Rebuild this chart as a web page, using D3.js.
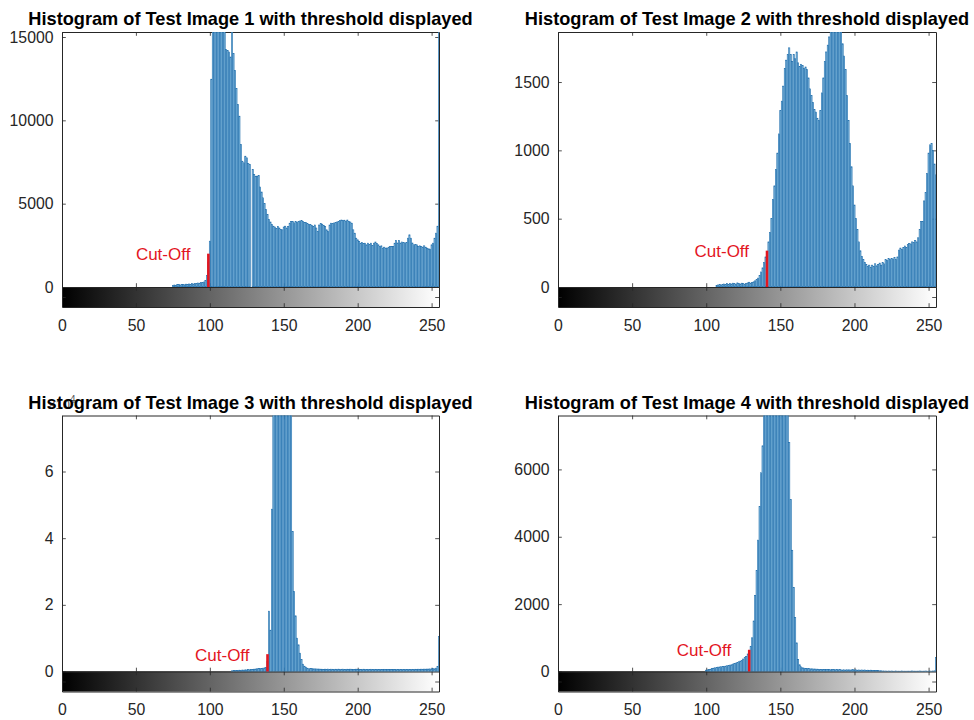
<!DOCTYPE html>
<html>
<head>
<meta charset="utf-8">
<script src="https://cdn.jsdelivr.net/npm/d3@7"></script>
<style>
  body { margin: 0; background: #fff; }
</style>
</head>
<body>
<svg id="chart" width="974" height="720"></svg>
<script>
// grey levels 0..255, bins before the start index are empty
const xTicks = [0, 50, 100, 150, 200, 250];

const img1Title = 'Histogram of Test Image 1 with threshold displayed';
const img1Start = 75;
const img1Counts = [
  80,120,100,140,150,120,160,150,130,170,160,180,150,200,180,220,200,240,230,260,280,300,380,
  700,1500,2750,12470,
  17800,19500,21000,20500,19800,18600,17500,16800,16100,
  14250,14200,14100,13800,16600,14000,13000,11900,10950,10250,
  8550,7550,7450,7850,7750,7400,7350,0,7050,6750,
  6650,6650,6700,6000,5700,5350,5000,4650,4350,4050,
  3900,3750,3650,3600,3500,3620,3540,3450,3430,3600,
  3650,3540,3620,3830,3930,3920,3850,3930,3880,3920,
  3960,4000,3940,3880,3860,3820,3760,3740,3700,3640,
  3720,3540,3330,3720,3800,3770,3680,3620,3430,3330,
  3720,3830,3800,3840,3870,3900,3940,3990,4020,3990,
  4010,3950,4020,3930,3900,3830,3430,3230,2930,2830,
  2730,2630,2660,2620,2630,2530,2630,2540,2630,2480,
  2630,2700,2620,2530,2430,2470,2330,2390,2330,2340,
  2390,2420,2430,2430,2630,2790,2640,2790,2640,2700,
  2670,2640,2680,2930,3130,2930,2640,2530,2540,2530,
  2430,2470,2430,2390,2470,2390,2330,2290,2270,2530,
  2630,2930,3230,3650,17000
];
const img1Threshold = 99, img1CutCount = 2000;
const img1YTicks = [0, 5000, 10000, 15000];
const img1YMax = 15300;

const img2Title = 'Histogram of Test Image 2 with threshold displayed';
const img2Start = 107;
const img2Counts = [
  12,15,18,15,20,22,18,25,20,24,22,28,25,20,30,26,22,28,25,18,24,30,35,
  28,32,38,45,55,65,85,110,140,180,220,
  260,
  330,400,500,640,740,860,980,1120,1290,
  1360,1470,1600,1660,1700,1750,1700,1650,1700,1670,
  1720,1640,1615,1630,1620,1600,1610,1590,1530,1450,
  1400,1350,1300,1280,1235,1220,1290,1420,1530,1650,
  1720,1770,1830,1900,1960,2000,2050,2080,2060,2000,
  1930,1780,1690,1590,1400,1220,1050,880,740,600,
  500,420,330,265,225,200,180,165,150,160,
  145,160,150,170,155,165,175,160,180,170,
  200,195,210,200,210,205,215,200,220,270,
  285,275,290,300,290,310,320,315,330,325,
  340,330,360,420,478,480,630,690,830,980,
  1040,1050,1000,900,820
];
const img2Threshold = 141, img2CutCount = 266;
const img2YTicks = [0, 500, 1000, 1500];
const img2YMax = 1866;

const img3Title = 'Histogram of Test Image 3 with threshold displayed';
const img3Start = 115;
const img3Counts = [
  200,300,250,350,300,400,350,450,400,500,450,550,500,600,650,
  700,750,800,850,900,950,1000,1100,1250,3000,
  18100,12400,48700,
  85000,95000,105000,112000,118000,120000,119000,115000,110000,104000,98000,92000,86000,
  42000,24000,16700,10000,8000,5500,3600,2200,1600,1300,1000,800,
  900,850,800,780,760,740,720,700,
  680,650,700,670,720,660,700,680,650,690,
  670,710,660,680,700,650,670,690,660,700,
  680,650,670,700,660,680,650,670,690,660,
  640,670,650,680,660,630,670,650,640,660,
  630,650,670,640,660,630,650,620,640,660,
  630,650,640,620,660,630,640,650,630,660,
  640,670,650,680,660,690,670,700,680,710,
  700,720,740,760,800,850,
  800,1000,1500,10500
];
const img3Threshold = 139, img3CutCount = 5200;
const img3YTicks = [0, 20000, 40000, 60000];
const img3YMax = 76800;

const img4Title = 'Histogram of Test Image 4 with threshold displayed';
const img4Start = 100;
const img4Counts = [
  40,50,60,70,90,100,110,120,130,135,
  140,145,150,160,170,180,190,200,220,235,
  250,270,290,310,330,370,410,450,520,600,
  750,1000,1500,2250,3000,3900,4900,5900,6700,
  7700,8600,9400,10200,10900,11400,11700,11900,11800,11500,11100,10600,10000,9400,8800,8200,7700,
  6800,5100,3600,2500,1600,850,350,200,140,110,
  100,95,90,85,80,80,75,75,70,70,
  65,60,65,60,55,60,55,60,50,55,
  55,50,55,50,55,50,45,50,45,50,
  50,45,50,55,45,50,40,45,40,45,
  40,45,35,40,35,40,30,35,30,30,
  25,20,20,15,15,15,10,15,10,15,
  10,10,15,10,10,10,15,10,10,10,
  10,10,10,15,10,10,10,10,15,10,
  10,10,15,10,10,15,10,15,20,
  420
];
const img4Threshold = 129, img4CutCount = 645;
const img4YTicks = [0, 2000, 4000, 6000];
const img4YMax = 7600;

const panels = [
  {title: img1Title, start: img1Start, counts: img1Counts, thr: img1Threshold, cut: img1CutCount, yTicks: img1YTicks, yMax: img1YMax, exp: 0},
  {title: img2Title, start: img2Start, counts: img2Counts, thr: img2Threshold, cut: img2CutCount, yTicks: img2YTicks, yMax: img2YMax, exp: 0},
  {title: img3Title, start: img3Start, counts: img3Counts, thr: img3Threshold, cut: img3CutCount, yTicks: img3YTicks, yMax: img3YMax, exp: 4},
  {title: img4Title, start: img4Start, counts: img4Counts, thr: img4Threshold, cut: img4CutCount, yTicks: img4YTicks, yMax: img4YMax, exp: 0}
];

// axes boxes: top of plot, zero line (top of grey bar), bottom of grey bar
const frames = [
  {left: 62, right: 439, top: 32, zero: 287, bottom: 307},
  {left: 558, right: 936, top: 32, zero: 287, bottom: 307},
  {left: 62, right: 439, top: 415.5, zero: 671.5, bottom: 691.5},
  {left: 558, right: 936, top: 415.5, zero: 671.5, bottom: 691.5}
];

const FONT = '"Liberation Sans", Arial, Helvetica, sans-serif';
const AXIS_COLOR = '#262626';
const TICK = 3.8;

const svg = d3.select('#chart');
const defs = svg.append('defs');

function styleAxis(g) {
  g.attr('color', AXIS_COLOR)
    .attr('font-family', FONT)
    .attr('font-size', 15.8);
  g.selectAll('path.domain').attr('stroke-width', 1);
  g.selectAll('.tick line').attr('stroke-width', 0.8);
}

panels.forEach((p, k) => {
  const f = frames[k];
  const g = svg.append('g');

  const x = d3.scaleLinear().domain([0, 255]).range([f.left, f.right]);
  const y = d3.scaleLinear().domain([0, p.yMax]).range([f.zero, f.top]);
  const bandW = x(1) - x(0);

  // main axes (drawn below the data, like Layer = bottom)
  g.append('g').attr('transform', `translate(${f.left},0)`)
    .call(d3.axisLeft(y).tickValues(p.yTicks).tickSizeInner(-TICK).tickSizeOuter(0).tickPadding(8.5)
      .tickFormat(d => p.exp ? d / Math.pow(10, p.exp) : d))
    .call(styleAxis);
  g.append('g').attr('transform', `translate(${f.right},0)`)
    .call(d3.axisRight(y).tickValues(p.yTicks).tickSizeInner(-TICK).tickSizeOuter(0).tickFormat(''))
    .call(styleAxis);
  g.append('g').attr('transform', `translate(0,${f.top})`)
    .call(d3.axisTop(x).tickValues(xTicks).tickSizeInner(-TICK).tickSizeOuter(0).tickFormat(''))
    .call(styleAxis);
  g.append('g').attr('transform', `translate(0,${f.zero})`)
    .call(d3.axisBottom(x).tickValues(xTicks).tickSizeInner(-TICK).tickSizeOuter(0).tickFormat(''))
    .call(styleAxis);

  // grey-level bar under the histogram
  const gradId = 'grey' + k;
  const grad = defs.append('linearGradient').attr('id', gradId)
    .attr('gradientUnits', 'userSpaceOnUse')
    .attr('x1', x(0)).attr('x2', x(255)).attr('y1', 0).attr('y2', 0);
  grad.append('stop').attr('offset', 0).attr('stop-color', '#000');
  grad.append('stop').attr('offset', 1).attr('stop-color', '#fff');
  g.append('rect')
    .attr('x', f.left).attr('y', f.zero)
    .attr('width', f.right - f.left).attr('height', f.bottom - f.zero)
    .attr('fill', `url(#${gradId})`);

  const yBar = d3.scaleLinear().domain([0, 1]).range([f.bottom, f.zero]);
  g.append('g').attr('transform', `translate(0,${f.bottom})`)
    .call(d3.axisBottom(x).tickValues(xTicks).tickSizeInner(-TICK).tickSizeOuter(0).tickPadding(12.5))
    .call(styleAxis);
  g.append('g').attr('transform', `translate(0,${f.zero})`)
    .call(d3.axisTop(x).tickValues(xTicks).tickSizeInner(-TICK).tickSizeOuter(0).tickFormat(''))
    .call(styleAxis);
  g.append('g').attr('transform', `translate(${f.left},0)`)
    .call(d3.axisLeft(yBar).tickValues([0.5]).tickSizeInner(-TICK).tickSizeOuter(0).tickFormat(''))
    .call(styleAxis);
  g.append('g').attr('transform', `translate(${f.right},0)`)
    .call(d3.axisRight(yBar).tickValues([0.5]).tickSizeInner(-TICK).tickSizeOuter(0).tickFormat(''))
    .call(styleAxis);

  // histogram bars
  const clipId = 'clip' + k;
  defs.append('clipPath').attr('id', clipId)
    .append('rect')
    .attr('x', f.left).attr('y', f.top)
    .attr('width', f.right - f.left).attr('height', f.zero - f.top);

  const bins = p.counts.map((c, i) => ({bin: p.start + i, count: c}));
  g.append('g').attr('clip-path', `url(#${clipId})`)
    .selectAll('rect')
    .data(bins)
    .enter().append('rect')
    .attr('x', d => x(d.bin) - bandW * 0.4)
    .attr('width', bandW * 0.8)
    .attr('y', d => y(d.count))
    .attr('height', d => f.zero - y(d.count))
    .attr('fill', '#8cc0e2')
    .attr('stroke', '#1264a6')
    .attr('stroke-width', 0.55);

  // threshold marker
  g.append('line')
    .attr('x1', x(p.thr)).attr('x2', x(p.thr))
    .attr('y1', y(0)).attr('y2', y(p.cut))
    .attr('stroke', '#e3161f')
    .attr('stroke-width', 2.6);
  g.append('text')
    .attr('x', x(p.thr) - 18)
    .attr('y', y(p.cut) + 2)
    .attr('text-anchor', 'end')
    .attr('dominant-baseline', 'middle')
    .attr('font-family', FONT)
    .attr('font-size', 17)
    .attr('fill', '#e3161f')
    .text('Cut-Off');

  // exponent label for the scaled axis (sits behind the title, as in the original)
  if (p.exp) {
    const t = g.append('text')
      .attr('x', f.left - 14).attr('y', f.top - 6.5)
      .attr('font-family', FONT)
      .attr('font-size', 13)
      .attr('fill', '#555');
    t.append('tspan').text('\u00d710');
    t.append('tspan').attr('dy', -6).attr('font-size', 10).text(p.exp);
  }

  g.append('text')
    .attr('x', (f.left + f.right) / 2)
    .attr('y', f.top - 7)
    .attr('text-anchor', 'middle')
    .attr('font-family', FONT)
    .attr('font-weight', 'bold')
    .attr('font-size', 18.2)
    .attr('fill', '#000')
    .text(p.title);
});
</script>
</body>
</html>
